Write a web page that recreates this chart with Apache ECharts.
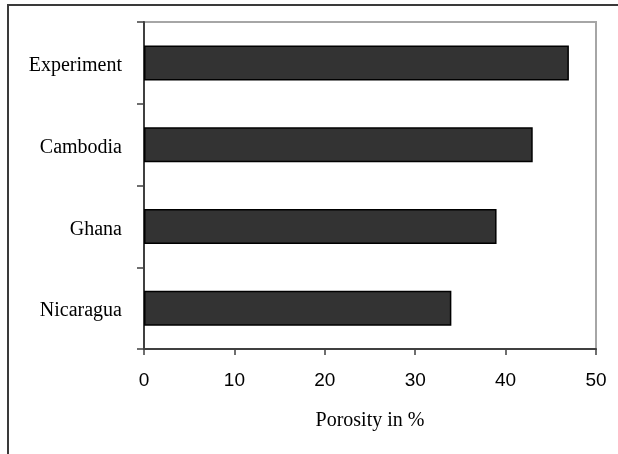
<!DOCTYPE html>
<html>
<head>
<meta charset="utf-8">
<style>
  html, body { margin: 0; padding: 0; background: #fff; }
  #chart { width: 618px; height: 454px; }
</style>
<script src="https://cdn.jsdelivr.net/npm/echarts@6/dist/echarts.min.js"></script>
</head>
<body>
<div id="chart"></div>
<script>
// Sample origins, listed bottom to top as the category axis draws them
const categories = ['Nicaragua', 'Ghana', 'Cambodia', 'Experiment'];
// Porosity of each sample, in percent
const porosity = [34, 39, 43, 47];
// Value axis ticks
const xMin = 0;
const xMax = 50;
const xStep = 10;

const chart = echarts.init(document.getElementById('chart'), null, { renderer: 'canvas' });

chart.setOption({
  animation: false,
  backgroundColor: '#ffffff',
  graphic: [{
    type: 'rect',
    shape: { x: 8, y: 5, width: 700, height: 600 },
    style: { fill: 'none', stroke: '#3a3a3a', lineWidth: 2 },
    silent: true
  }],
  grid: {
    left: 144, top: 22, right: 22, bottom: 105,
    show: true,
    borderColor: '#a6a6a6',
    borderWidth: 2,
    backgroundColor: 'transparent'
  },
  xAxis: {
    type: 'value',
    min: xMin, max: xMax, interval: xStep,
    name: 'Porosity in %',
    nameLocation: 'middle',
    nameGap: 62,
    nameTextStyle: { fontFamily: 'Liberation Serif', fontSize: 20, color: '#000' },
    axisLine: { show: true, lineStyle: { color: '#404040', width: 2 } },
    axisTick: { show: true, inside: false, length: 6, lineStyle: { color: '#404040', width: 1.5 } },
    axisLabel: { fontFamily: 'Liberation Sans', fontSize: 19, color: '#000', margin: 22 },
    splitLine: { show: false }
  },
  yAxis: {
    type: 'category',
    data: categories,
    axisLine: { show: true, onZero: false, lineStyle: { color: '#404040', width: 2 } },
    axisTick: { show: true, inside: false, length: 7, alignWithLabel: false, lineStyle: { color: '#404040', width: 1.5 } },
    axisLabel: {
      margin: 22,
      formatter: function (v) { return '{c|' + v + '}'; },
      rich: {
        c: { fontFamily: 'Liberation Serif', fontSize: 20, color: '#000', padding: [6, 0, 0, 0] }
      }
    },
    splitLine: { show: false }
  },
  series: [{
    type: 'bar',
    data: porosity,
    barWidth: 35,
    itemStyle: { color: '#333333', borderColor: '#000000', borderWidth: 1.5 }
  }]
});
</script>
</body>
</html>
